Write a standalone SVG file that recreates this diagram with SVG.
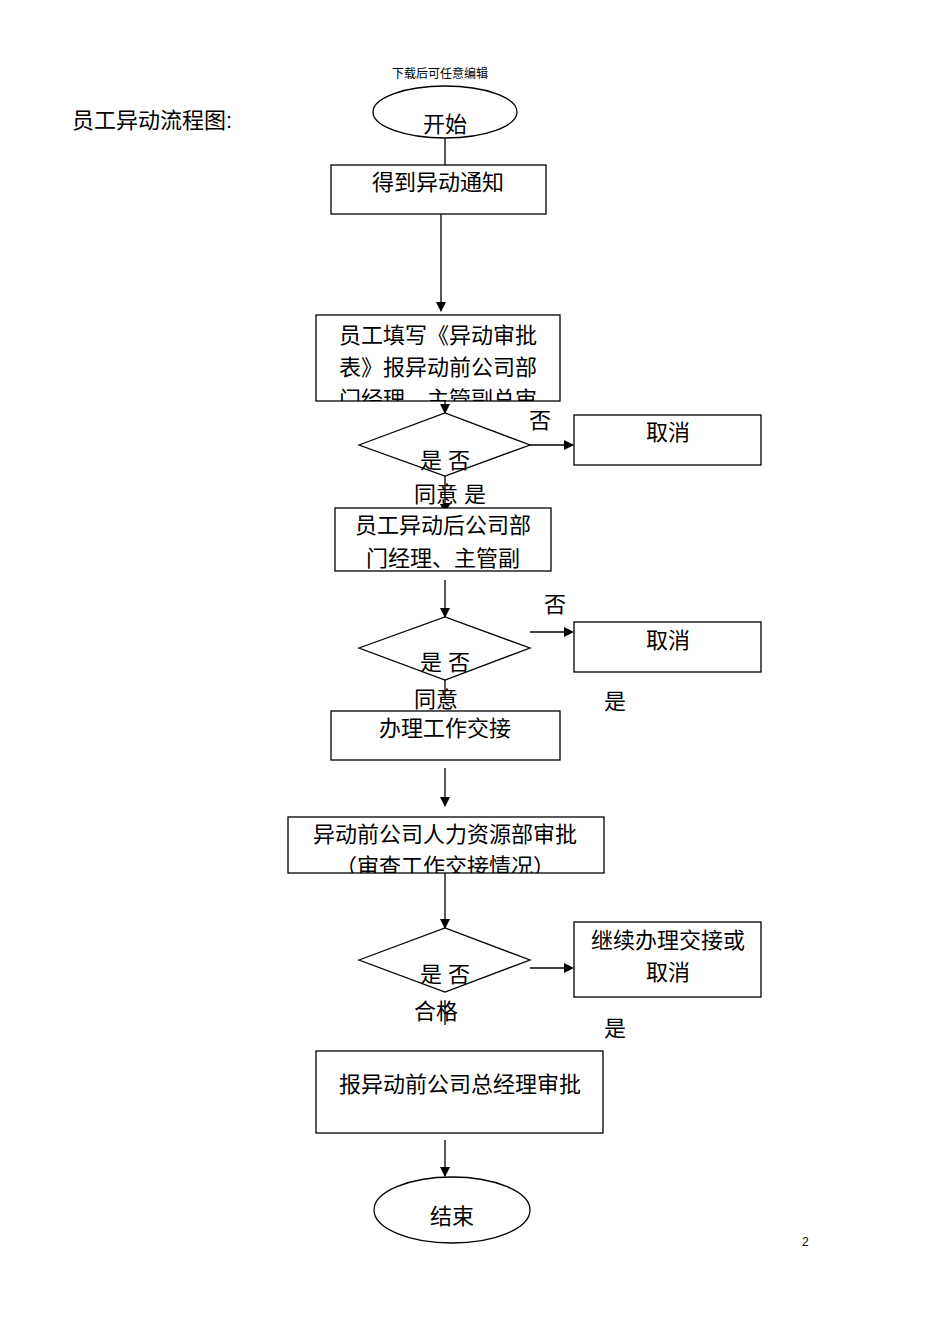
<svg xmlns="http://www.w3.org/2000/svg" width="950" height="1344" viewBox="0 0 950 1344">
<style>
text{font-family:"Liberation Sans","Noto Sans CJK SC",sans-serif;fill:#000}
.t{font-size:22px;text-anchor:middle}
.b{fill:#fff;stroke:#000;stroke-width:1.3}
.c line{stroke:#000;stroke-width:1.3}
</style>
<defs>
<marker id="a" markerWidth="10" markerHeight="10" refX="9" refY="5" orient="auto" markerUnits="userSpaceOnUse"><path d="M0,0L10,5L0,10z"/></marker>
<clipPath id="k2"><rect x="316" y="315" width="244" height="86"/></clipPath>
<clipPath id="k3"><rect x="335" y="508" width="216" height="63"/></clipPath>
<clipPath id="k5"><rect x="288" y="817" width="316" height="56"/></clipPath>
</defs>
<rect width="950" height="1344" fill="#fff"/>
<text x="440" y="78" font-size="12" text-anchor="middle">下载后可任意编辑</text>
<text x="72" y="128" font-size="22">员工异动流程图:</text>
<text x="802" y="1246" font-size="12">2</text>
<g class="c">
<line x1="445" y1="138" x2="445" y2="165"/>
<line x1="441" y1="214" x2="441" y2="311" marker-end="url(#a)"/>
<line x1="445" y1="390" x2="445" y2="413" marker-end="url(#a)"/>
<line x1="530" y1="445" x2="573" y2="445" marker-end="url(#a)"/>
<line x1="445" y1="476" x2="445" y2="513" marker-end="url(#a)"/>
<line x1="445" y1="580" x2="445" y2="617" marker-end="url(#a)"/>
<line x1="530" y1="632" x2="573" y2="632" marker-end="url(#a)"/>
<line x1="445" y1="680" x2="445" y2="700"/>
<line x1="445" y1="768" x2="445" y2="806" marker-end="url(#a)"/>
<line x1="445" y1="873" x2="445" y2="928" marker-end="url(#a)"/>
<line x1="530" y1="968" x2="573" y2="968" marker-end="url(#a)"/>
<line x1="445" y1="1000" x2="445" y2="1025"/>
<line x1="445" y1="1140" x2="445" y2="1176" marker-end="url(#a)"/>
</g>
<g id="start"><ellipse class="b" cx="445" cy="112" rx="72" ry="26"/><text class="t" x="445" y="132">开始</text></g>
<g id="n1"><rect class="b" x="331" y="165" width="215" height="49"/><text class="t" x="438" y="190">得到异动通知</text></g>
<g id="n2"><rect class="b" x="316" y="315" width="244" height="86"/><g clip-path="url(#k2)"><text class="t" x="438" y="343">员工填写《异动审批</text><text class="t" x="438" y="375">表》报异动前公司部</text><text class="t" x="438" y="407">门经理、主管副总审</text></g></g>
<g id="d1"><polygon class="b" points="359,445 445,413 530,445 445,476"/><text class="t" x="445" y="468">是  否</text></g>
<text class="t" x="540" y="428">否</text>
<g id="x1"><rect class="b" x="574" y="415" width="187" height="50"/><text class="t" x="668" y="440">取消</text></g>
<text class="t" x="436" y="502">同意</text><text class="t" x="475" y="502">是</text>
<g id="n3"><rect class="b" x="335" y="508" width="216" height="63"/><g clip-path="url(#k3)"><text class="t" x="443" y="533">员工异动后公司部</text><text class="t" x="443" y="566">门经理、主管副</text></g></g>
<g id="d2"><polygon class="b" points="359,648 445,617 530,648 445,680"/><text class="t" x="445" y="670">是  否</text></g>
<text class="t" x="555" y="612">否</text>
<g id="x2"><rect class="b" x="574" y="622" width="187" height="50"/><text class="t" x="668" y="648">取消</text></g>
<text class="t" x="436" y="707">同意</text><text class="t" x="615" y="709">是</text>
<g id="n4"><rect class="b" x="331" y="711" width="229" height="49"/><text class="t" x="445" y="736">办理工作交接</text></g>
<g id="n5"><rect class="b" x="288" y="817" width="316" height="56"/><g clip-path="url(#k5)"><text class="t" x="445" y="842">异动前公司人力资源部审批</text><text class="t" x="445" y="874">（审查工作交接情况）</text></g></g>
<g id="d3"><polygon class="b" points="359,960 445,928 530,960 445,992"/><text class="t" x="445" y="982">是  否</text></g>
<g id="x3"><rect class="b" x="574" y="922" width="187" height="75"/><text class="t" x="668" y="948">继续办理交接或</text><text class="t" x="668" y="980">取消</text></g>
<text class="t" x="436" y="1019">合格</text><text class="t" x="615" y="1036">是</text>
<g id="n6"><rect class="b" x="316" y="1051" width="287" height="82"/><text class="t" x="460" y="1092">报异动前公司总经理审批</text></g>
<g id="end"><ellipse class="b" cx="452" cy="1210" rx="78" ry="33"/><text class="t" x="452" y="1224">结束</text></g>
</svg>
